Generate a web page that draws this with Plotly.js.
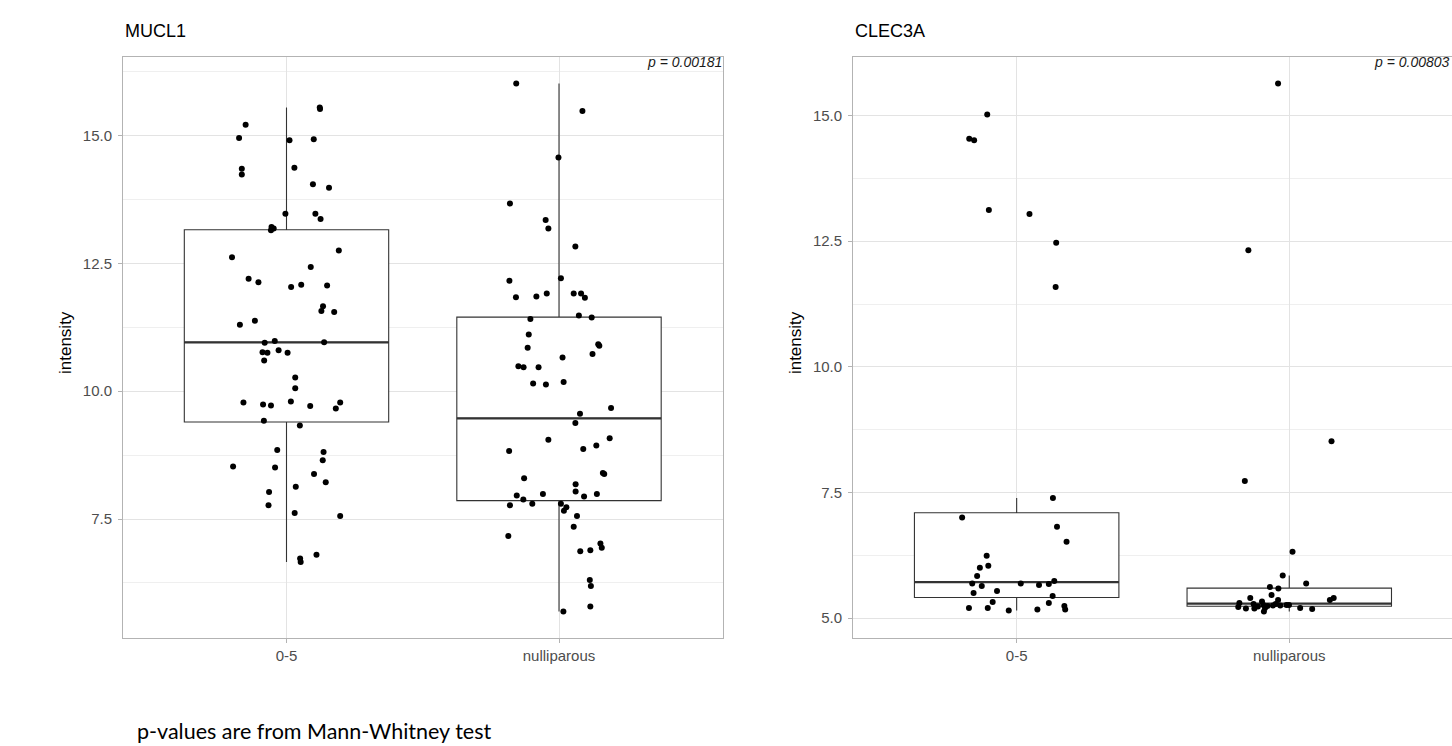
<!DOCTYPE html>
<html>
<head>
<meta charset="utf-8">
<script src="https://cdn.plot.ly/plotly-3.0.1.min.js"></script>
<style>
  html, body { margin: 0; padding: 0; overflow: hidden; background: #fff; }
  #chart { width: 1452px; height: 746px; }
</style>
</head>
<body>
<div id="chart"></div>
<script>
// ---------------- data ----------------
const categories = ['0-5', 'nulliparous'];
const panelTitles = ['MUCL1', 'CLEC3A'];
const pValues = ['p = 0.00181', 'p = 0.00803'];
const yTitle = 'intensity';
const footnote = 'p-values are from Mann-Whitney test';

// MUCL1, group 0-5
const mucl1_05 = [15.55, 15.52, 15.21, 14.95, 14.91, 14.93, 14.35, 14.24, 14.37, 14.05, 13.98, 13.47, 13.47, 13.37,
  13.21, 13.18, 13.15, 12.75, 12.62, 12.43, 12.20, 12.13, 12.04, 12.08, 12.07, 11.66, 11.57, 11.55, 11.30, 11.38,
  10.95, 10.98, 10.96, 10.76, 10.75, 10.80, 10.75, 10.60, 10.27, 10.06, 9.78, 9.74, 9.72, 9.80, 9.71, 9.78, 9.66,
  9.42, 9.33, 8.85, 8.81, 8.65, 8.53, 8.51, 8.38, 8.22, 8.13, 8.03, 7.77, 7.62, 7.56, 6.80, 6.73, 6.66];
// horizontal jitter of each point (category units)
const mucl1_05_jitter = [0.122, 0.123, -0.150, -0.174, 0.011, 0.100, -0.164, -0.164, 0.029, 0.097, 0.156, -0.004, 0.106, 0.125,
  -0.055, -0.047, -0.057, 0.192, -0.200, 0.089, -0.139, -0.103, 0.017, 0.054, 0.149, 0.134, 0.128, 0.175, -0.171, -0.116,
  -0.080, -0.043, 0.138, -0.088, -0.070, -0.029, 0.004, -0.082, 0.032, 0.032, -0.158, -0.086, -0.057, 0.016, 0.087, 0.197, 0.181,
  -0.083, 0.049, -0.034, 0.136, 0.133, -0.196, -0.042, 0.101, 0.144, 0.034, -0.064, -0.066, 0.030, 0.197, 0.110, 0.050, 0.052];

// MUCL1, group nulliparous
const mucl1_nul = [16.02, 15.48, 14.57, 13.67, 13.35, 13.18, 12.83, 12.16, 12.21, 11.84, 11.85, 11.91, 11.91, 11.91, 11.83,
  11.41, 11.48, 11.44, 11.11, 10.92,
  10.85, 10.89, 10.73, 10.66, 10.49, 10.47, 10.47, 10.15, 10.13, 10.18, 9.67, 9.56, 9.38, 9.05, 9.08, 8.83, 8.87, 8.94,
  8.30, 8.40, 8.38, 8.18, 8.04, 7.99, 7.96, 7.88, 7.94, 7.99, 7.77, 7.80, 7.80, 7.73, 7.66, 7.56, 7.35, 7.17, 7.02, 6.94,
  6.87, 6.89, 6.31, 6.19, 5.79, 5.69];
const mucl1_nul_jitter = [-0.157, 0.086, -0.002, -0.180, -0.049, -0.039, 0.060, -0.182, 0.007, -0.158, -0.083, -0.045, 0.054, 0.081, 0.095,
  -0.105, 0.073, 0.120, -0.111, 0.144,
  -0.115, 0.148, 0.123, 0.013, -0.149, -0.130, -0.075, -0.095, -0.048, 0.017, 0.191, 0.077, 0.060, -0.039, 0.186, -0.183, 0.089, 0.137,
  -0.128, 0.161, 0.166, 0.061, 0.061, -0.059, -0.155, -0.131, 0.092, 0.139, -0.180, -0.098, 0.007, 0.027, 0.018, 0.066, 0.054, -0.186, 0.152, 0.157,
  0.078, 0.115, 0.113, 0.117, 0.115, 0.016];

// CLEC3A, group 0-5
const clec3a_05 = [15.02, 14.54, 14.51, 13.12, 13.04, 12.47, 11.59, 7.39, 7.00, 6.82, 6.52, 6.24, 6.04, 6.00, 5.84, 5.69,
  5.64, 5.69, 5.66, 5.68, 5.74, 5.50, 5.54, 5.44, 5.32, 5.30, 5.20, 5.20, 5.15, 5.17, 5.24, 5.17];
const clec3a_05_jitter = [-0.108, -0.174, -0.156, -0.102, 0.047, 0.145, 0.143, 0.133, -0.200, 0.148, 0.183, -0.110, -0.104, -0.135, -0.145, -0.163,
  -0.128, 0.015, 0.082, 0.118, 0.138, -0.158, -0.072, 0.132, -0.088, 0.118, -0.175, -0.106, -0.029, 0.076, 0.175, 0.178];

// CLEC3A, group nulliparous
const clec3a_nul = [15.64, 12.32, 8.52, 7.73, 6.32, 5.85, 5.62, 5.59, 5.69, 5.46, 5.40, 5.36, 5.33, 5.36, 5.40, 5.30,
  5.28, 5.26, 5.25, 5.26, 5.22, 5.19, 5.19, 5.20, 5.13, 5.20, 5.18, 5.23, 5.24, 5.25, 5.26, 5.28];
const clec3a_nul_jitter = [-0.041, -0.150, 0.155, -0.163, 0.012, -0.024, -0.071, -0.040, 0.062, -0.065, -0.143, -0.041, -0.100, 0.149, 0.163, -0.183,
  -0.131, -0.095, -0.033, -0.001, -0.187, -0.159, -0.128, -0.089, -0.093, 0.040, 0.084, -0.115, -0.080, -0.060, -0.010, -0.050];

// ---------------- helpers ----------------
const W = 1452, H = 746;
const FONT = 'Liberation Sans, Arial, sans-serif';
const BOXW = 0.75;

function quant7(sorted, p) {
  const h = (sorted.length - 1) * p;
  const lo = Math.floor(h), f = h - lo;
  if (lo + 1 >= sorted.length) return sorted[lo];
  return sorted[lo] + f * (sorted[lo + 1] - sorted[lo]);
}
function boxStats(vals) {
  const s = vals.slice().sort((a, b) => a - b);
  const q1 = quant7(s, 0.25), med = quant7(s, 0.5), q3 = quant7(s, 0.75);
  const iqr = q3 - q1;
  const lo = q1 - 1.5 * iqr, hi = q3 + 1.5 * iqr;
  const inside = s.filter(v => v >= lo && v <= hi);
  return { q1, med, q3, lf: inside[0], uf: inside[inside.length - 1] };
}
function expandRange(arrs) {
  const all = [].concat(...arrs);
  const mn = Math.min(...all), mx = Math.max(...all);
  const pad = 0.05 * (mx - mn);
  return [mn - pad, mx + pad];
}
const px = x => x / W;
const py = y => 1 - y / H;

const panels = [
  { groups: [[mucl1_05, mucl1_05_jitter], [mucl1_nul, mucl1_nul_jitter]], xa: 'x', ya: 'y' },
  { groups: [[clec3a_05, clec3a_05_jitter], [clec3a_nul, clec3a_nul_jitter]], xa: 'x2', ya: 'y2' }
];

const traces = [];
panels.forEach(p => {
  p.groups.forEach((g, gi) => {
    const c = gi + 1;
    const st = boxStats(g[0]);
    traces.push({
      type: 'box', x: [c], q1: [st.q1], median: [st.med], q3: [st.q3],
      lowerfence: [st.lf], upperfence: [st.uf], width: BOXW,
      boxpoints: false, whiskerwidth: 0, fillcolor: '#ffffff',
      line: { color: '#333333', width: 1.1 }, hoverinfo: 'skip',
      xaxis: p.xa, yaxis: p.ya, showlegend: false
    });
    traces.push({
      type: 'scatter', mode: 'lines', x: [c - BOXW / 2, c + BOXW / 2], y: [st.med, st.med],
      line: { color: '#333333', width: 2.3 }, hoverinfo: 'skip',
      xaxis: p.xa, yaxis: p.ya, showlegend: false
    });
    traces.push({
      type: 'scatter', mode: 'markers', x: g[1].map(j => c + j), y: g[0],
      marker: { color: '#000000', size: 6, line: { width: 0 } },
      xaxis: p.xa, yaxis: p.ya, showlegend: false, cliponaxis: false
    });
  });
});

function xAxis(domain, range) {
  return {
    domain: domain, range: range, tickvals: [1, 2], ticktext: categories,
    showgrid: true, gridcolor: '#e3e3e3', gridwidth: 1, zeroline: false,
    ticks: 'outside', ticklen: 4, tickcolor: '#b3b3b3', tickwidth: 1,
    showline: true, mirror: true, linecolor: '#b3b3b3', linewidth: 1,
    tickfont: { family: FONT, size: 15, color: '#4d4d4d' }, ticklabelstandoff: 0,
    fixedrange: true
  };
}
function yAxis(range, anchor, mirror) {
  return {
    domain: [py(638), py(57)], range: range, anchor: anchor,
    tick0: 0, dtick: 2.5, tickformat: '.1f',
    showgrid: true, gridcolor: '#e3e3e3', gridwidth: 1, zeroline: false,
    minor: { tick0: 0, dtick: 1.25, showgrid: true, gridcolor: '#efefef', gridwidth: 1 },
    ticks: 'outside', ticklen: 4, tickcolor: '#b3b3b3', tickwidth: 1,
    showline: true, mirror: mirror, linecolor: '#b3b3b3', linewidth: 1,
    tickfont: { family: FONT, size: 15, color: '#4d4d4d' }, ticklabelstandoff: 3,
    fixedrange: true
  };
}

// right panel continues past the page edge (as in the cropped original)
const UNIT = 272.6; // px per category step
const rightLeft = 853.1;
const rightRange = [0.4, 0.4 + (W - rightLeft) / UNIT];

const annotations = [];
const panelLeft = [123, rightLeft], panelRight = [723.5, W];
panelTitles.forEach((t, i) => {
  annotations.push({ text: t, xref: 'paper', yref: 'paper', x: px(panelLeft[i]), y: py(31),
    xanchor: 'left', yanchor: 'middle', showarrow: false, font: { family: FONT, size: 18, color: '#000' } });
  annotations.push({ text: pValues[i], xref: 'paper', yref: 'paper', x: px(panelRight[i]), y: py(62),
    xanchor: 'right', yanchor: 'middle', showarrow: false,
    font: { family: FONT, size: 14, color: '#1a1a1a', style: 'italic' } });
  annotations.push({ text: yTitle, xref: 'paper', yref: 'paper', x: px(panelLeft[i] - 58), y: py(343),
    xanchor: 'center', yanchor: 'middle', textangle: -90, showarrow: false,
    font: { family: FONT, size: 17, color: '#000' } });
});
annotations.push({ text: footnote, xref: 'paper', yref: 'paper', x: px(135), y: py(731),
  xanchor: 'left', yanchor: 'middle', showarrow: false, font: { family: 'Lato, Open Sans, sans-serif', size: 21.5, color: '#000' } });

const layout = {
  width: W, height: H, margin: { l: 0, r: 0, t: 0, b: 0 },
  paper_bgcolor: '#ffffff', plot_bgcolor: '#ffffff', showlegend: false,
  xaxis: Object.assign(xAxis([px(123), px(722.5)], [0.4, 2.6]), { anchor: 'y' }),
  yaxis: yAxis(expandRange([mucl1_05, mucl1_nul]), 'x', true),
  xaxis2: Object.assign(xAxis([px(rightLeft), 1], rightRange), { anchor: 'y2' }),
  yaxis2: yAxis(expandRange([clec3a_05, clec3a_nul]), 'x2', false),
  annotations: annotations
};

Plotly.newPlot('chart', traces, layout, { displayModeBar: false, staticPlot: true });
</script>
</body>
</html>
